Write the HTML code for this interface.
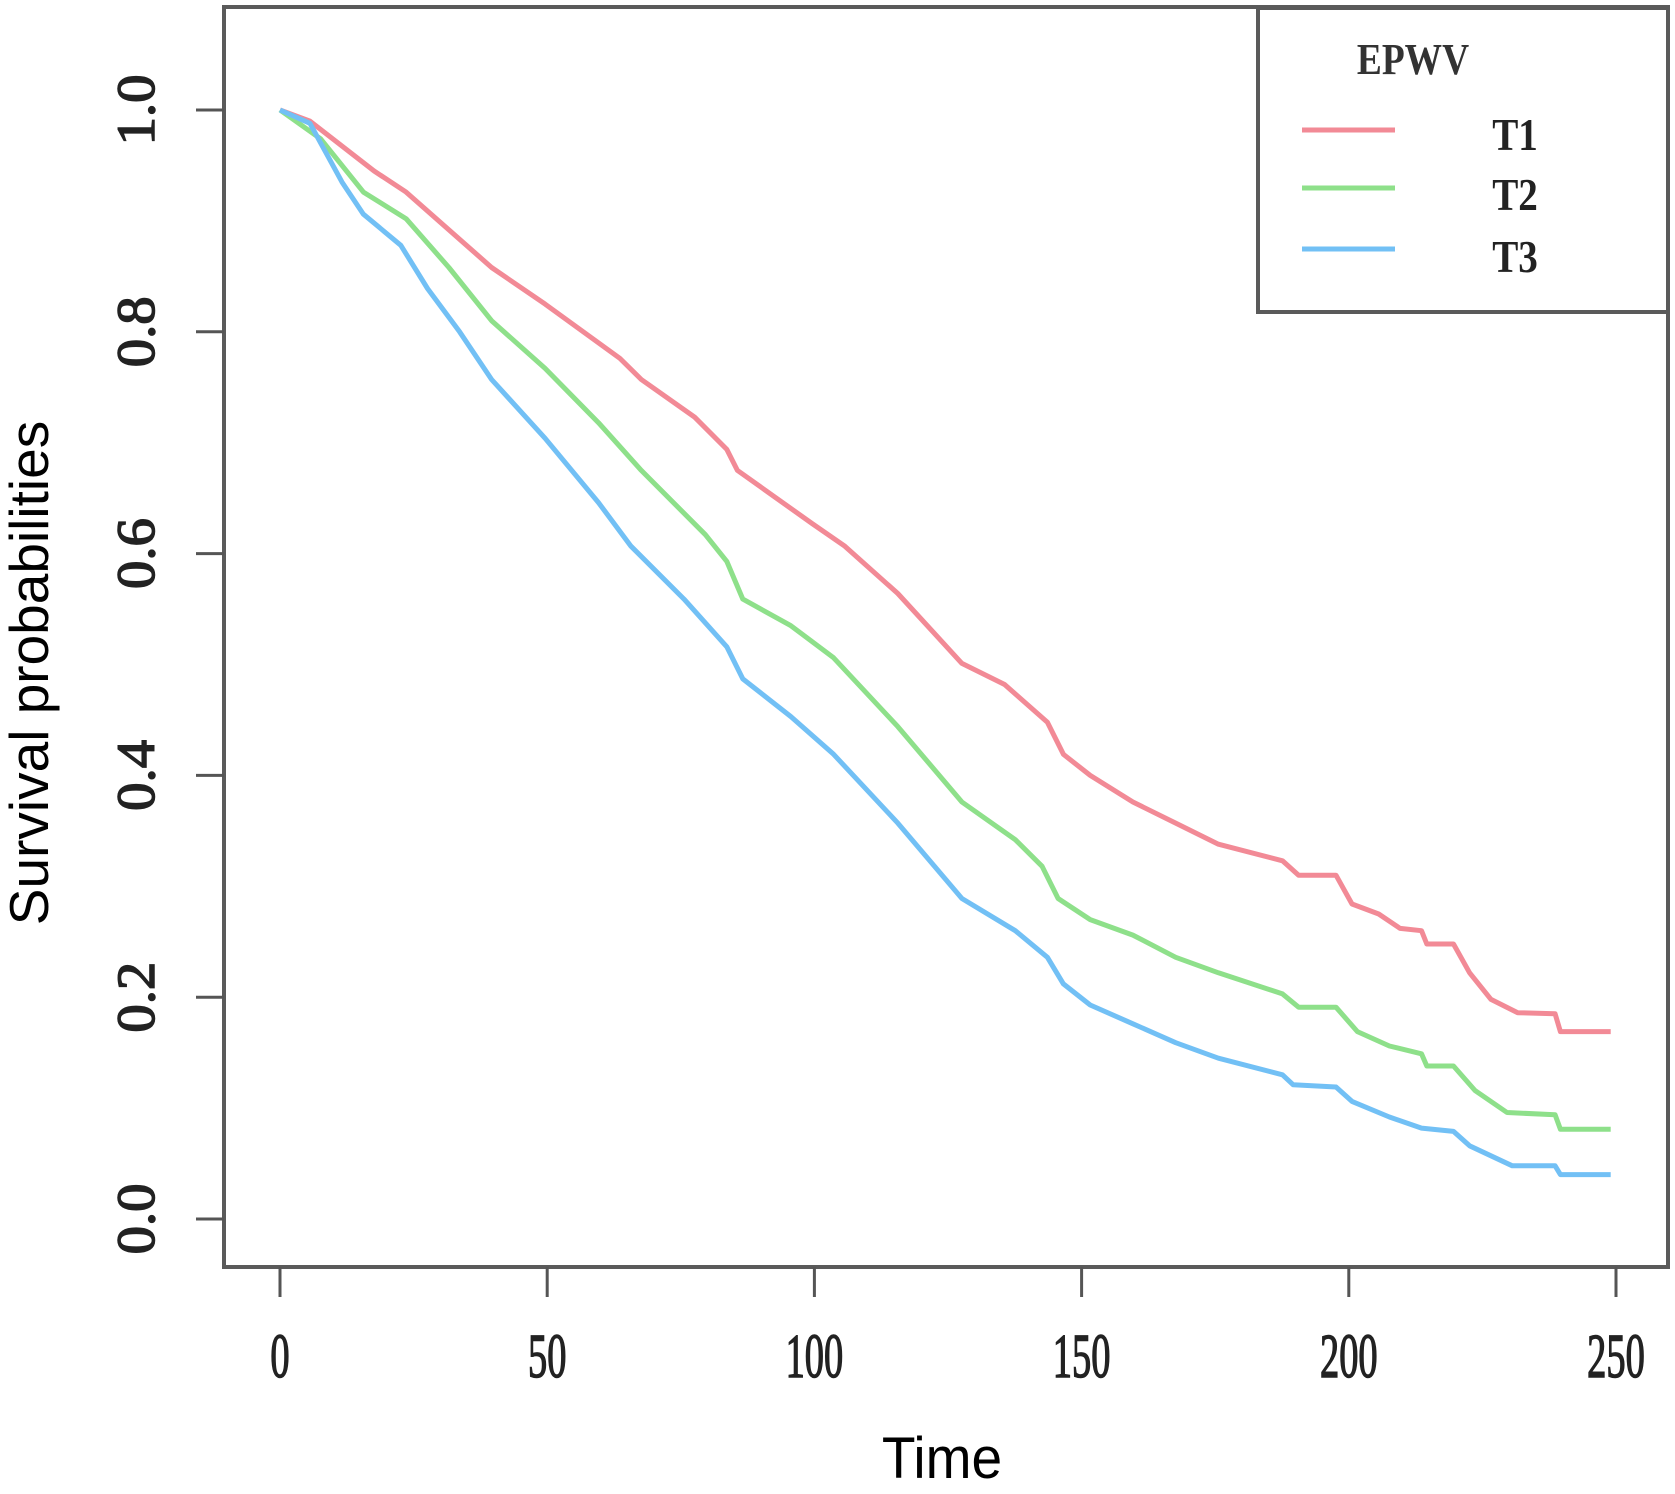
<!DOCTYPE html>
<html><head><meta charset="utf-8"><style>
html,body{margin:0;padding:0;background:#fff;}
svg{display:block;}
</style></head><body>
<svg id="chart" width="1675" height="1494" viewBox="0 0 1675 1494" xmlns="http://www.w3.org/2000/svg">
<rect x="0" y="0" width="1675" height="1494" fill="#fff"/>
<g id="plot"></g>
<rect x="224" y="7" width="1444" height="1260" fill="none" stroke="#5a5a5a" stroke-width="4"/>
<g id="axes"></g>
<text transform="translate(942,1478) scale(0.95,1)" font-family="Liberation Sans, sans-serif" font-size="58" text-anchor="middle" fill="#000">Time</text>
<text transform="translate(48,673) rotate(-90)" font-family="Liberation Sans, sans-serif" font-size="55" text-anchor="middle" fill="#000">Survival probabilities</text>
<g>
<rect x="1258" y="8" width="410" height="304" fill="#fff" stroke="#5a5a5a" stroke-width="4"/>
<text transform="translate(1413,74) scale(0.85,1)" font-family="Liberation Serif, serif" font-size="44" font-weight="bold" text-anchor="middle" fill="#333">EPWV</text>
<line x1="1302" y1="130" x2="1395" y2="130" stroke="#f28a96" stroke-width="5"/>
<line x1="1302" y1="188" x2="1395" y2="188" stroke="#8ee08a" stroke-width="5"/>
<line x1="1302" y1="249" x2="1395" y2="249" stroke="#72c0f5" stroke-width="5"/>
<text transform="translate(1515,150) scale(0.85,1)" font-family="Liberation Serif, serif" font-size="46" font-weight="bold" text-anchor="middle" fill="#222">T1</text>
<text transform="translate(1515,210) scale(0.85,1)" font-family="Liberation Serif, serif" font-size="46" font-weight="bold" text-anchor="middle" fill="#222">T2</text>
<text transform="translate(1515,272) scale(0.85,1)" font-family="Liberation Serif, serif" font-size="46" font-weight="bold" text-anchor="middle" fill="#222">T3</text>
</g>
</svg>
<script>
const xTicks = [0, 50, 100, 150, 200, 250];
const yTicks = [0.0, 0.2, 0.4, 0.6, 0.8, 1.0];
const yTickLabels = ["0.0", "0.2", "0.4", "0.6", "0.8", "1.0"];
const t1Time = [0,5.6,17.6,23.6,39.6,49.6,63.6,67.6,77.6,83.6,85.6,99.6,105.6,115.6,127.6,135.6,143.6,146.6,151.6,159.6,167.6,175.6,187.6,190.6,197.6,200.6,205.6,209.6,213.6,214.6,219.6,222.6,226.6,231.6,238.6,239.6,249];
const t1Surv = [1.0,0.99,0.945,0.926,0.858,0.825,0.776,0.757,0.723,0.694,0.675,0.627,0.607,0.564,0.501,0.482,0.448,0.419,0.40,0.376,0.357,0.338,0.323,0.31,0.31,0.284,0.275,0.262,0.26,0.248,0.248,0.222,0.198,0.186,0.185,0.169,0.169];
const t2Time = [0,7.6,15.6,23.6,31.6,39.6,49.6,59.6,67.6,79.6,83.6,86.6,95.6,103.6,115.6,127.6,137.6,142.6,145.6,151.6,159.6,167.6,175.6,187.6,190.6,197.6,201.6,207.6,213.6,214.6,219.6,223.6,229.6,238.6,239.6,249];
const t2Surv = [1.0,0.974,0.926,0.902,0.858,0.81,0.767,0.718,0.675,0.617,0.593,0.559,0.535,0.506,0.444,0.376,0.342,0.318,0.289,0.27,0.256,0.236,0.222,0.203,0.191,0.191,0.169,0.156,0.149,0.138,0.138,0.116,0.096,0.094,0.081,0.081];
const t3Time = [0,5.6,11.6,15.6,22.6,27.6,33.6,39.6,49.6,59.6,65.6,75.6,83.6,86.6,95.6,103.6,115.6,127.6,137.6,143.6,146.6,151.6,159.6,167.6,175.6,187.6,189.6,197.6,200.6,207.6,213.6,219.6,222.6,230.6,238.6,239.6,249];
const t3Surv = [1.0,0.988,0.935,0.906,0.878,0.839,0.8,0.757,0.704,0.646,0.607,0.559,0.516,0.487,0.453,0.419,0.357,0.289,0.26,0.236,0.212,0.193,0.176,0.159,0.145,0.13,0.121,0.119,0.106,0.092,0.082,0.079,0.066,0.048,0.048,0.04,0.04];

const NS = "http://www.w3.org/2000/svg";
function xScale(t){ return 280 + t * (1616 - 280) / 250; }
function yScale(s){ return 1219 - s * (1219 - 110); }
const plot = document.getElementById('plot');
const axes = document.getElementById('axes');

function drawSeries(times, survs, color, name){
  const p = document.createElementNS(NS, 'polyline');
  p.setAttribute('points', times.map((t,i)=>xScale(t).toFixed(1)+','+yScale(survs[i]).toFixed(1)).join(' '));
  p.setAttribute('fill','none');
  p.setAttribute('stroke',color);
  p.setAttribute('stroke-width','5');
  p.setAttribute('stroke-linejoin','round');
  
  
  plot.appendChild(p);
}
drawSeries(t1Time, t1Surv, '#f28a96', 'curve-t1');
drawSeries(t2Time, t2Surv, '#8ee08a', 'curve-t2');
drawSeries(t3Time, t3Surv, '#72c0f5', 'curve-t3');

xTicks.forEach(v=>{
  const x = xScale(v);
  const l = document.createElementNS(NS,'line');
  l.setAttribute('x1',x); l.setAttribute('x2',x);
  l.setAttribute('y1',1267); l.setAttribute('y2',1297);
  l.setAttribute('stroke','#555'); l.setAttribute('stroke-width','3');
  
  
  axes.appendChild(l);
  const tx = document.createElementNS(NS,'text');
  tx.setAttribute('x',0); tx.setAttribute('y',0);
  tx.setAttribute('transform','translate('+x+',1377) scale(0.62,1)');
  tx.setAttribute('font-family','Liberation Serif, serif');
  tx.setAttribute('font-size','62');
  tx.setAttribute('text-anchor','middle');
  tx.setAttribute('fill','#222');
  tx.setAttribute('stroke','#222');
  tx.setAttribute('stroke-width','1.5');
  tx.textContent = String(v);
  
  
  axes.appendChild(tx);
});
yTicks.forEach((v,i)=>{
  const y = yScale(v);
  const l = document.createElementNS(NS,'line');
  l.setAttribute('x1',196); l.setAttribute('x2',224);
  l.setAttribute('y1',y); l.setAttribute('y2',y);
  l.setAttribute('stroke','#555'); l.setAttribute('stroke-width','3');
  
  
  axes.appendChild(l);
  const tx = document.createElementNS(NS,'text');
  tx.setAttribute('transform','translate(154,'+y+') rotate(-90) scale(1.05,1)');
  tx.setAttribute('font-family','Liberation Serif, serif');
  tx.setAttribute('font-size','54');
  tx.setAttribute('text-anchor','middle');
  tx.setAttribute('fill','#222');
  tx.setAttribute('stroke','#222');
  tx.setAttribute('stroke-width','1.5');
  tx.textContent = yTickLabels[i];
  
  
  axes.appendChild(tx);
});
</script>
</body></html>
